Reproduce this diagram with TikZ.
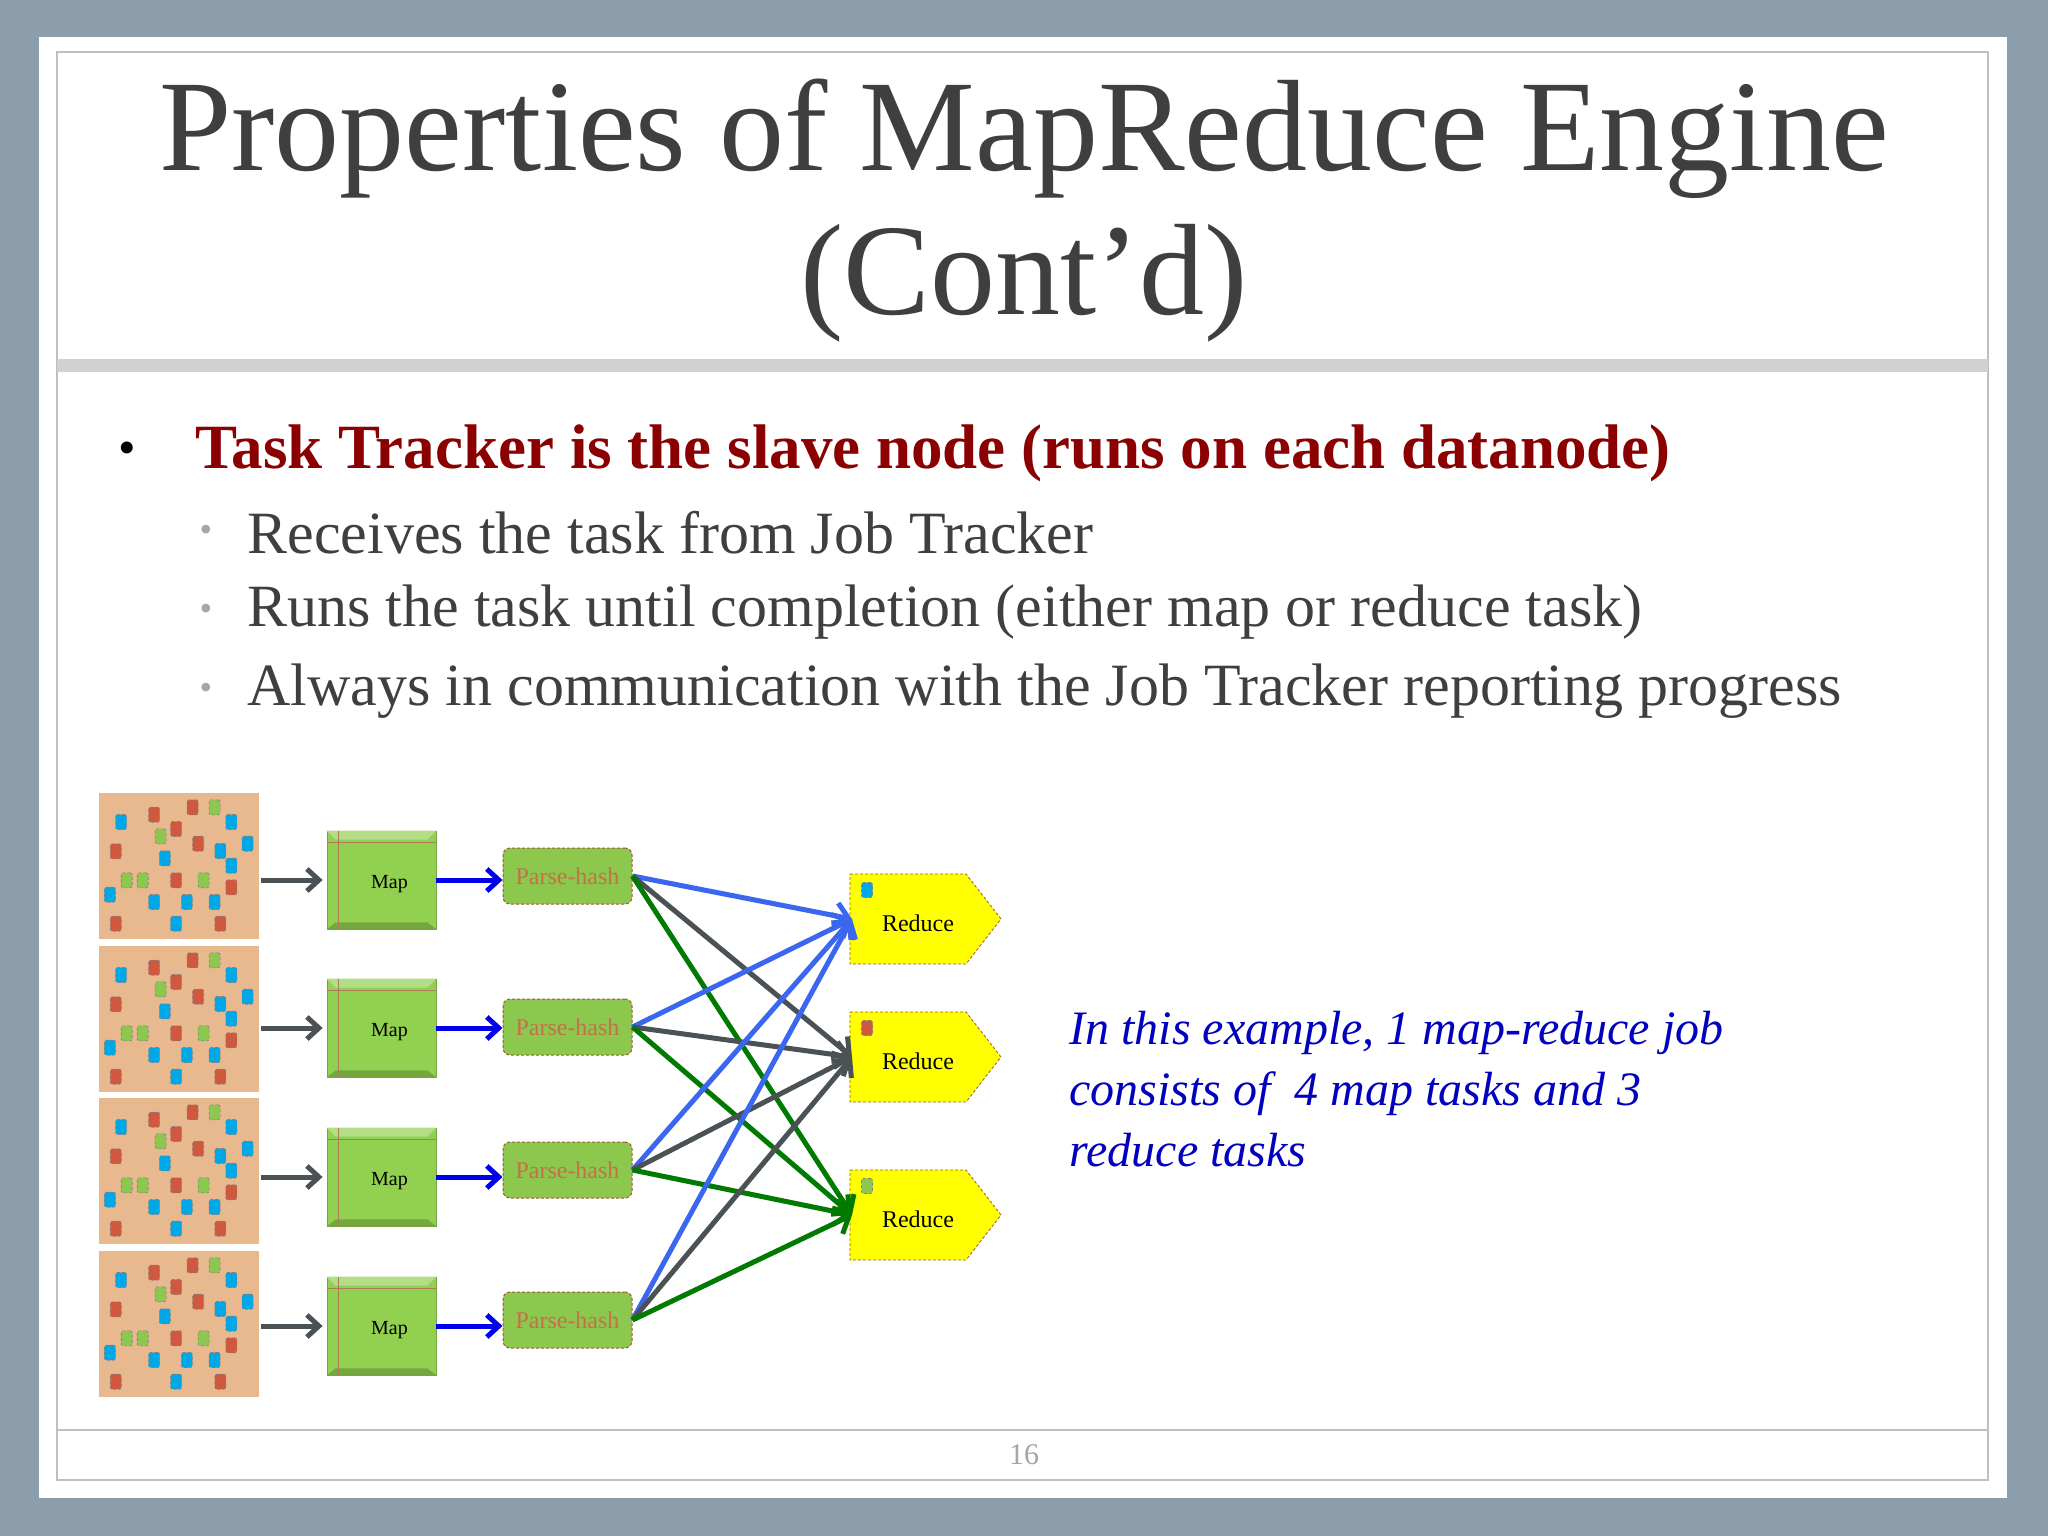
\documentclass[tikz,border=0pt]{standalone}
\usepackage{fontspec}
\setmainfont{Liberation Serif}
\usetikzlibrary{arrows.meta,shapes.geometric,calc}
\definecolor{bgc}{HTML}{8C9DAC}
\definecolor{dred}{HTML}{8B0000}
\definecolor{txt}{HTML}{3F3F3F}
\definecolor{sand}{HTML}{E8B88E}
\definecolor{dr}{HTML}{D0583E}
\definecolor{db}{HTML}{00A8E8}
\definecolor{dg}{HTML}{8CC850}
\definecolor{mapg}{HTML}{92D050}
\definecolor{phg}{HTML}{8CC84E}
\definecolor{pht}{HTML}{C47048}
\definecolor{brn}{HTML}{9A5A30}
\definecolor{garr}{HTML}{4A5256}
\definecolor{barr}{HTML}{0000EE}
\definecolor{lbarr}{HTML}{3A66F0}
\definecolor{grarr}{HTML}{007A00}
\definecolor{ylw}{HTML}{FFFF00}
\tikzset{
 dot/.style={rounded corners=2pt, draw=black!50, densely dashed, line width=0.6pt, minimum width=11pt, minimum height=15pt, inner sep=0pt},
 mapbox/.style={fill=mapg, draw=mapg!80!black, line width=0.8pt, minimum width=109pt, minimum height=98pt, inner sep=0pt},
 phbox/.style={fill=phg, draw=brn, densely dashed, line width=1pt, rounded corners=7pt, minimum width=129pt, minimum height=56pt, inner sep=0pt, text=pht, font=\fontsize{24}{28}\selectfont},
 redbox/.style={fill=ylw, draw=brn, densely dashed, line width=0.8pt, inner sep=0pt},
 inarr/.style={draw=garr, line width=5pt, -{Straight Barb[length=12pt,width=22pt,line width=5pt]}},
 marr/.style={draw=barr, line width=5pt, -{Straight Barb[length=12pt,width=22pt,line width=5pt]}},
 fan/.style={line width=5pt, -{Straight Barb[length=13pt,width=26pt,line width=5pt]}},
}
\newcommand{\datasq}[2]{%
 \node[fill=sand, minimum width=160pt, minimum height=146pt, inner sep=0pt, anchor=north west] (#2) at (99,#1) {};
 \foreach \px/\py/\c in {20.7/29/db,51.7/21.7/dr,87.7/14.3/dr,108.3/14.3/dg,124/29/db,57.7/43.3/dg,72.3/36/dr,15.7/58.3/dr,93/50.7/dr,113.7/58/db,139.3/50.7/db,61.7/65.3/db,124/72.7/db,26/87.3/dg,41/87.3/dg,72.3/87.3/dr,98/87.3/dg,124/94.3/dr,10.3/101.7/db,51.7/109/db,82.3/109/db,108.3/109/db,15.7/130.7/dr,72.3/130.7/db,113.7/130.7/dr}
  {\node[dot, fill=\c] at (99+1.067*\px,#1+\py) {};}
}
\newcommand{\mapat}[2]{%
 \node[mapbox] (#2) at (381.5,#1) {};
 \fill[mapg!70!white] ($(#2.north west)$) -- ($(#2.north east)$) -- ($(#2.north east)+(-9,9)$) -- ($(#2.north west)+(9,9)$) -- cycle;
 \fill[mapg!80!black] ($(#2.south west)$) -- ($(#2.south east)$) -- ($(#2.south east)+(-9,-7)$) -- ($(#2.south west)+(9,-7)$) -- cycle;
 \draw[brn!80, line width=0.8pt] ($(#2.north west)+(12,0)$) -- ($(#2.south west)+(12,0)$);
 \draw[brn!80, line width=0.8pt] ($(#2.north west)+(0,12)$) -- ($(#2.north east)+(0,12)$);
 \node[font=\fontsize{20}{22}\selectfont] at ($(#2.center)+(8,4)$) {Map};
}
\begin{document}
\begin{tikzpicture}[x=1pt,y=-1pt]
\useasboundingbox (0,0) rectangle (2048,1536);
\fill[bgc] (0,0) rectangle (2048,1536);
\fill[white] (39,37) rectangle (2007,1498);
\draw[black!25, line width=1.5pt] (57,52) rectangle (1988,1480);
\fill[black!18] (57,359) rectangle (1988,372);
\draw[black!25, line width=1.5pt] (57,1430) -- (1988,1430);
\node[text=txt, font=\fontsize{130}{138}\selectfont] (t1) at (1024,139) {Properties of MapReduce Engine};
\node[text=txt, font=\fontsize{130}{138}\selectfont] (t2) at (1024,283) {(Cont’d)};
\node[text=black, font=\fontsize{50}{60}\selectfont] (b0) at (127,453) {•};
\node[text=dred, font=\bfseries\fontsize{63}{70}\selectfont, anchor=west] (b1) at (192,453) {Task Tracker is the slave node (runs on each datanode)};
\foreach \y/\t [count=\i] in {533/Receives the task from Job Tracker, 612/Runs the task until completion (either map or reduce task), 691/Always in communication with the Job Tracker reporting progress}{
 \node[text=black!35, font=\fontsize{36}{40}\selectfont] (sd\i) at (206,\y) {•};
 \node[text=txt, font=\fontsize{60}{66}\selectfont, anchor=west] (s\i) at (244,\y) {\t};
}
\datasq{793}{d1}
\datasq{946}{d2}
\datasq{1098}{d3}
\datasq{1251}{d4}
\mapat{880}{m1}
\mapat{1028}{m2}
\mapat{1177}{m3}
\mapat{1326}{m4}
\foreach \i/\y in {1/876,2/1027,3/1170,4/1320}{
 \node[phbox] (p\i) at (567.5,\y) {Parse-hash};
}
\foreach \i in {1,...,4}{
 \draw[inarr] (d\i.east |- m\i.west) ++(2,0) -- ($(m\i.west)+(-4,0)$);
 \draw[marr] (m\i.east) -- (p\i.west |- m\i.east);
}
\foreach \i/\yt/\c in {1/874/db,2/1012/dr,3/1170/dg}{
 \path[redbox] (850,\yt) -- (966,\yt) -- (1001,\yt+45) -- (966,\yt+90) -- (850,\yt+90) -- cycle;
 \node[inner sep=0pt, minimum width=0pt, minimum height=90pt] (r\i) at (852,\yt+45) {};
 \node[font=\fontsize{24}{28}\selectfont] (rt\i) at (918,\yt+49) {Reduce};
 \node[dot, fill=\c] (rs\i) at (867,\yt+16) {};
}
\foreach \i in {1,...,4}{
 \draw[fan, draw=lbarr] (p\i.east) -- (r1.center);
 \draw[fan, draw=garr] (p\i.east) -- (r2.center);
 \draw[fan, draw=grarr] (p\i.east) -- (r3.center);
}
\node[text=barr!80!black, font=\itshape\fontsize{48}{61}\selectfont, anchor=north west, align=left] (note) at (1066,1008) {In this example, 1 map-reduce job\\consists of \ 4 map tasks and 3\\reduce tasks};
\node[text=black!35, font=\fontsize{30}{34}\selectfont] (pg) at (1024,1455) {16};
\end{tikzpicture}
\end{document}
